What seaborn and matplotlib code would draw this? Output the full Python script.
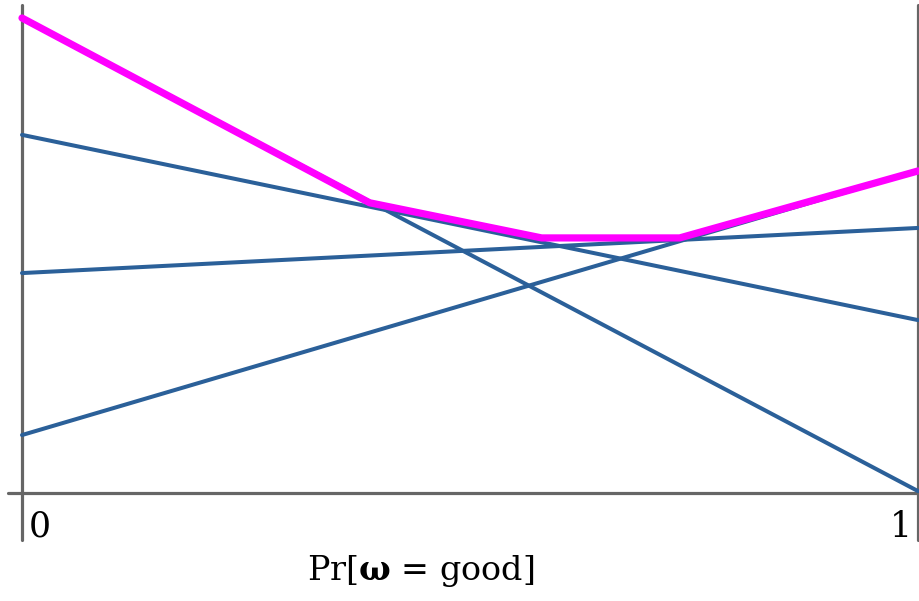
import pandas as pd
import matplotlib.pyplot as plt
import seaborn as sns

# belief Pr[w = good] on the x axis, payoff of each action on the y axis
belief = [0.0, 1.0]
action_a = [0.754, 0.364]
action_b = [0.463, 0.558]
action_c = [0.122, 0.678]
action_d = [1.0, 0.004]

# upper envelope (value function)
env_x = [0.0, 0.388, 0.580, 0.734, 1.0]
env_y = [1.0, 0.611, 0.537, 0.537, 0.678]

blue = '#2b6099'
magenta = '#ff00ff'
gray = '#666666'

sns.set_style('white')
plt.rcParams['font.family'] = ['DejaVu Serif']
plt.rcParams['mathtext.fontset'] = 'dejavuserif'
plt.rcParams['text.color'] = 'black'

df = pd.DataFrame({
    'x': belief * 4,
    'y': action_a + action_b + action_c + action_d,
    'action': ['a'] * 2 + ['b'] * 2 + ['c'] * 2 + ['d'] * 2,
})
df_env = pd.DataFrame({'x': env_x, 'y': env_y})

fig = plt.figure(figsize=(9.2, 6.01), dpi=100)
ax = fig.add_axes([0, 0, 1, 1])

sns.lineplot(data=df, x='x', y='y', units='action', estimator=None,
             color=blue, linewidth=2.9, ax=ax, legend=False)
sns.lineplot(data=df_env, x='x', y='y', color=magenta, linewidth=5.2,
             ax=ax, sort=False, legend=False)

ax.set_xlim(-22 / 896, 1 + 2 / 896)
ax.set_ylim(-108 / 475, 493 / 475)
ax.axis('off')

# axes drawn as plain lines, the vertical ones run past the x axis
ax.axhline(0, xmin=8 / 920, xmax=918 / 920, color=gray, linewidth=2.3, zorder=0)
ax.axvline(0, ymin=61 / 601, ymax=596 / 601, color=gray, linewidth=2.3, zorder=0)
ax.axvline(1, ymin=61 / 601, ymax=596 / 601, color=gray, linewidth=2.3, zorder=0)

ax.text(0.007, -0.035, '0', fontsize=25, ha='left', va='top', color='black')
ax.text(0.993, -0.035, '1', fontsize=25, ha='right', va='top', color='black')
ax.text(0.445, -0.165, r'Pr[$\mathbf{\omega}$ = good]', fontsize=24,
        ha='center', va='center', color='black')

fig.savefig('out.png', dpi=100)
